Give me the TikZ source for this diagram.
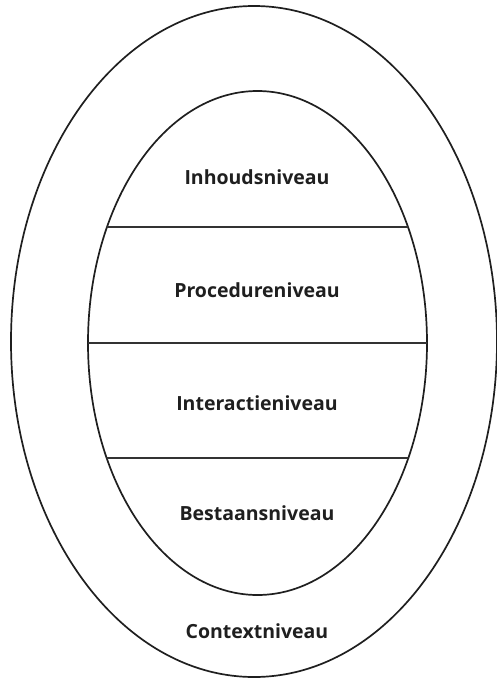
\documentclass[tikz,border=0pt]{standalone}
\usepackage{fontspec}
\setmainfont{Open Sans}
\begin{document}
\begin{tikzpicture}[x=1pt,y=-1pt,
  ring/.style={draw=black!88,line width=1.7pt},
  sep/.style={draw=black!80,line width=1.6pt},
  lbl/.style={font=\fontsize{19.5}{22}\selectfont\bfseries,text=black!88,anchor=center}]
\useasboundingbox (0,0) rectangle (497,678);
\draw[ring] (254,341.5) ellipse[x radius=243,y radius=335.5];
\draw[ring] (257.5,343) ellipse[x radius=169.5,y radius=252];
\begin{scope}
  \clip (257.5,343) ellipse[x radius=169.5,y radius=252];
  \draw[sep] (80,227) -- (440,227);
  \draw[sep] (80,343) -- (440,343);
  \draw[sep] (80,458) -- (440,458);
\end{scope}
\node[lbl] (inh) at (257,177) {Inhoudsniveau};
\node[lbl] (pro) at (257,290) {Procedureniveau};
\node[lbl] (int) at (257,403) {Interactieniveau};
\node[lbl] (bes) at (257,513) {Bestaansniveau};
\node[lbl] (con) at (257,631) {Contextniveau};
\end{tikzpicture}
\end{document}
